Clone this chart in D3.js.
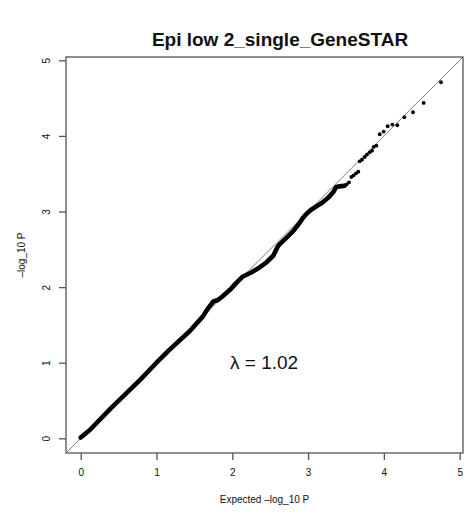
<!DOCTYPE html>
<html>
<head>
<meta charset="utf-8">
<title>Epi low 2_single_GeneSTAR</title>
<script src="https://d3js.org/d3.v7.min.js"></script>
<style>
body { margin: 0; background: #fff; }
text { font-family: "Liberation Sans", Arial, Helvetica, sans-serif; fill: #111; }
</style>
</head>
<body>
<script>
// chart values
var title = "Epi low 2_single_GeneSTAR";
var xTicks = [0, 1, 2, 3, 4, 5];
var yTicks = [0, 1, 2, 3, 4, 5];
var lambdaValue = "1.02";

// dense part of the QQ curve (points overlap into a thick band)
var bodyExpected = [0, 0.12, 0.40, 0.78, 1.00, 1.17, 1.44, 1.61, 1.68, 1.75, 1.81, 1.88, 1.97, 2.05, 2.14,
                    2.25, 2.36, 2.45, 2.54, 2.60, 2.63, 2.71, 2.80, 2.87, 2.93, 2.98, 3.04, 3.11, 3.18,
                    3.26, 3.33, 3.37, 3.42, 3.48];
var bodyObserved = [0.01, 0.11, 0.40, 0.77, 1.00, 1.17, 1.42, 1.61, 1.72, 1.81, 1.83, 1.885, 1.964, 2.053, 2.141,
                    2.194, 2.26, 2.326, 2.415, 2.538, 2.573, 2.649, 2.737, 2.825, 2.913, 2.971, 3.024, 3.068, 3.112,
                    3.178, 3.253, 3.324, 3.333, 3.342];

// sparse upper tail, single points
var tailExpected = [3.509, 3.540, 3.571, 3.602, 3.633, 3.663, 3.681, 3.712, 3.747, 3.777, 3.813, 3.844,
                    3.865, 3.901, 3.945, 3.997, 4.050, 4.112, 4.178, 4.270, 4.384, 4.525, 4.754];
var tailObserved = [3.359, 3.386, 3.457, 3.479, 3.505, 3.527, 3.664, 3.686, 3.721, 3.752, 3.783, 3.805,
                    3.854, 3.871, 4.022, 4.057, 4.128, 4.150, 4.141, 4.247, 4.313, 4.437, 4.710];

var W = 466, H = 518;
var box = {left: 66, right: 463, top: 57, bottom: 453};

var svg = d3.select("body").append("svg")
    .attr("width", W)
    .attr("height", H);

// R style 4% padding around 0..4.85
var lim = [0, 4.85];
var pad = (lim[1] - lim[0]) * 0.04;
var x = d3.scaleLinear().domain([lim[0] - pad, lim[1] + pad]).range([box.left, box.right]);
var y = d3.scaleLinear().domain([lim[0] - pad, lim[1] + pad]).range([box.bottom, box.top]);

// clip for the reference line
svg.append("clipPath").attr("id", "plotclip")
  .append("rect")
    .attr("x", box.left).attr("y", box.top)
    .attr("width", box.right - box.left).attr("height", box.bottom - box.top);

// y = x reference line
svg.append("line")
    .attr("clip-path", "url(#plotclip)")
    .attr("x1", x(lim[0] - pad)).attr("y1", y(lim[0] - pad))
    .attr("x2", x(lim[1] + pad)).attr("y2", y(lim[1] + pad))
    .attr("stroke", "#808080")
    .attr("stroke-width", 1);

// dense body
var body = bodyExpected.map(function(d, i) { return [d, bodyObserved[i]]; });
svg.append("path")
    .datum(body)
    .attr("d", d3.line().x(function(d) { return x(d[0]); }).y(function(d) { return y(d[1]); }))
    .attr("fill", "none")
    .attr("stroke", "#000")
    .attr("stroke-width", 4.6)
    .attr("stroke-linecap", "round")
    .attr("stroke-linejoin", "round");

// tail points
var tail = tailExpected.map(function(d, i) { return [d, tailObserved[i]]; });
svg.selectAll(".pt")
    .data(tail)
  .enter().append("circle")
    .attr("class", "pt")
    .attr("cx", function(d) { return x(d[0]); })
    .attr("cy", function(d) { return y(d[1]); })
    .attr("r", 1.9)
    .attr("fill", "#000");

// box
svg.append("rect")
    .attr("x", box.left).attr("y", box.top)
    .attr("width", box.right - box.left).attr("height", box.bottom - box.top)
    .attr("fill", "none")
    .attr("stroke", "#555")
    .attr("stroke-width", 1.3);

// x axis
var xAxis = svg.append("g")
    .attr("transform", "translate(0," + box.bottom + ")")
    .call(d3.axisBottom(x).tickValues(xTicks).tickSize(7).tickPadding(9).tickFormat(d3.format("d")));
xAxis.select(".domain").remove();
xAxis.selectAll("line").attr("stroke", "#555").attr("stroke-width", 1.3);
xAxis.selectAll("text")
    .style("font-family", "'Liberation Sans', Arial, sans-serif")
    .style("font-size", "10px")
    .attr("fill", "#111");

// y axis, labels turned like R's las=0
var yAxis = svg.append("g")
    .attr("transform", "translate(" + box.left + ",0)")
    .call(d3.axisLeft(y).tickValues(yTicks).tickSize(7).tickFormat(d3.format("d")));
yAxis.select(".domain").remove();
yAxis.selectAll("line").attr("stroke", "#555").attr("stroke-width", 1.3);
yAxis.selectAll("text")
    .attr("x", null).attr("dy", null)
    .attr("text-anchor", "middle")
    .attr("transform", "translate(-16,0) rotate(-90)")
    .style("font-family", "'Liberation Sans', Arial, sans-serif")
    .style("font-size", "10px")
    .attr("fill", "#111");

// titles
svg.append("text")
    .attr("x", 280)
    .attr("y", 46)
    .attr("text-anchor", "middle")
    .style("font-size", "19px")
    .style("font-weight", "bold")
    .text(title);

svg.append("text")
    .attr("x", (box.left + box.right) / 2)
    .attr("y", 503)
    .attr("text-anchor", "middle")
    .style("font-size", "10px")
    .text("Expected \u2013log_10 P");

svg.append("text")
    .attr("transform", "translate(25," + ((box.top + box.bottom) / 2) + ") rotate(-90)")
    .attr("text-anchor", "middle")
    .style("font-size", "10px")
    .text("\u2013log_10 P");

// lambda annotation
svg.append("text")
    .attr("x", x(2.42))
    .attr("y", y(1) + 6.5)
    .attr("text-anchor", "middle")
    .style("font-size", "19px")
    .text("\u03bb = " + lambdaValue);
</script>
</body>
</html>
